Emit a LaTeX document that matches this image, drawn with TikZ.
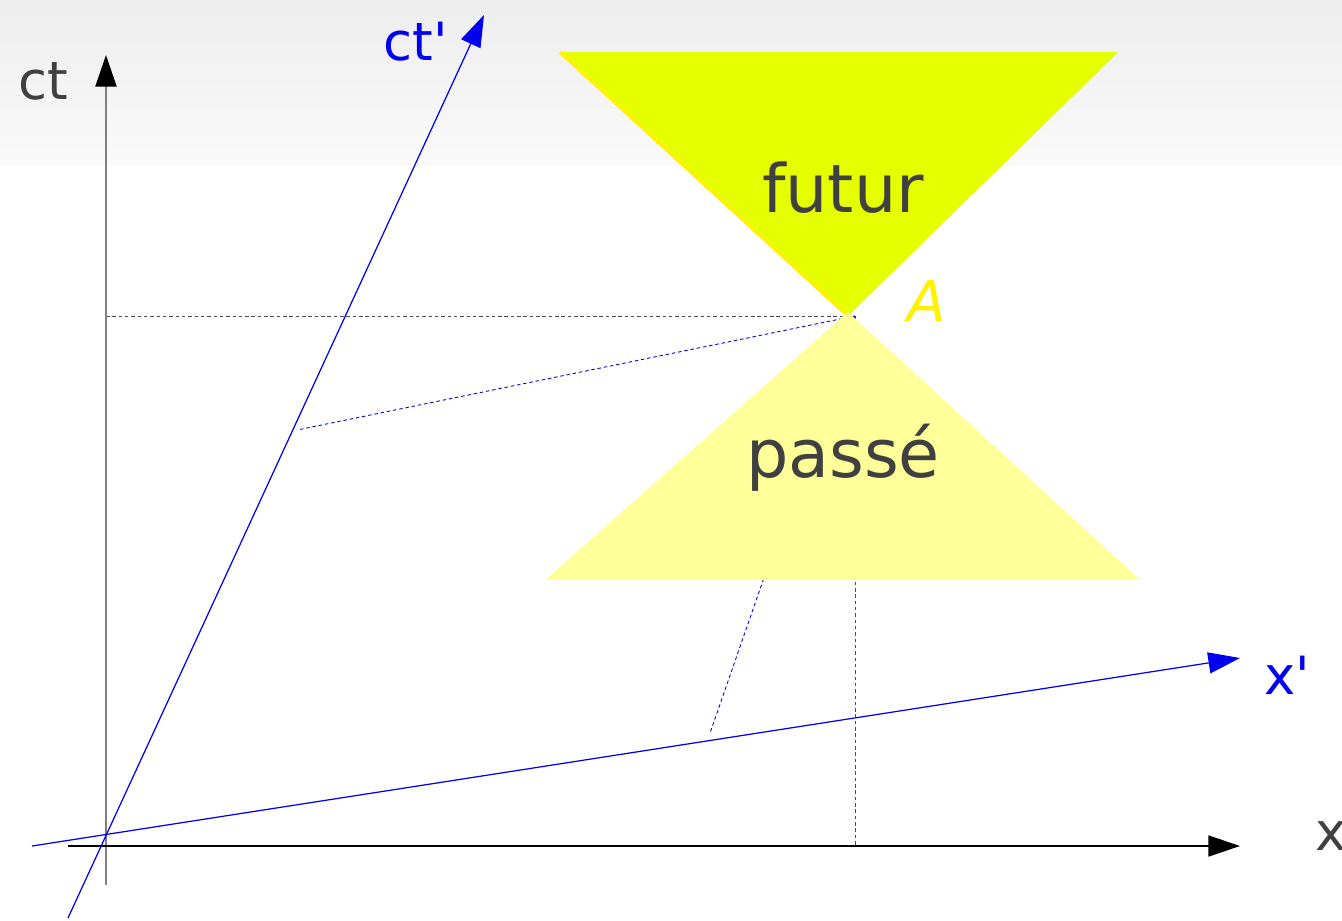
\documentclass[tikz,border=0pt]{standalone}
\usepackage{fontspec}
\setmainfont{DejaVu Sans}[Ligatures=TeXOff]
\usetikzlibrary{arrows.meta}

\definecolor{labelgray}{RGB}{64,64,64}
\definecolor{axisgray}{RGB}{128,128,128}
\definecolor{futurcol}{RGB}{230,255,0}
\definecolor{passecol}{RGB}{255,255,153}
\definecolor{primecol}{RGB}{0,0,240}

\tikzset{
  axis/.style={line width=0.8pt,-{Triangle[length=18pt,width=12pt]}},
  proj/.style={line width=0.5pt,dash pattern=on 2pt off 1.6pt},
  conelabel/.style={inner sep=0pt,text=labelgray,font=\fontsize{38}{44}\selectfont},
  axlabel/.style={inner sep=0pt,font=\fontsize{30}{36}\selectfont},
}

\begin{document}
\begin{tikzpicture}[x=0.02cm,y=-0.02cm]
% background
\useasboundingbox (0,0) rectangle (1342,920);
\fill[white] (0,0) rectangle (1342,920);
\shade[top color=black!7,bottom color=black!2] (0,0) rectangle (1342,165);

% points
\coordinate (ctlow) at (106,885);
\coordinate (cttip) at (106,55);
\coordinate (xlow) at (68,846);
\coordinate (xtip) at (1240,846);
\coordinate (ctplow) at (68,918);
\coordinate (ctptip) at (484,15);
\coordinate (xplow) at (32,846);
\coordinate (xptip) at (1240,658);
\coordinate (A) at (855,316);
\coordinate (Act) at (106,316);
\coordinate (Ax) at (855,846);
\coordinate (Actp) at (297,430);
\coordinate (Axp) at (710,733);

% projections
\draw[proj,black!70] (Act) -- (A);
\draw[proj,black!70] (A) -- (Ax);
\draw[proj,primecol] (A) -- (Actp);
\draw[proj,primecol] (A) -- (Axp);

% frame R
\draw[axisgray,line width=1.1pt,-{Triangle[length=18pt,width=12pt,color=black]}] (ctlow) -- (cttip);
\draw[axis,black] (xlow) -- (xtip);
\node[axlabel,text=labelgray] (ctlabel) at (43,81) {ct};
\node[axlabel,text=labelgray] (xlabel) at (1331,836) {x};

% frame R'
\draw[axis,primecol,line width=0.7pt] (ctplow) -- (ctptip);
\draw[axis,primecol,line width=0.7pt] (xplow) -- (xptip);
\node[axlabel,text=primecol] (ctplabel) at (416,42) {ct'};
\node[axlabel,text=primecol] (xplabel) at (1287,675) {x'};

% light cone
\fill[futurcol] (560,52) -- (1118,52) -- (848,316) -- cycle;
\draw[yellow,line width=2pt] (560,52) -- (848,316);
\fill[passecol] (848,312) -- (1140,580) -- (545,580) -- cycle;
\node[conelabel] (futur) at (843,188) {futur};
\node[conelabel] (passe) at (843,458) {passé};
\node[axlabel,text=yellow,font=\fontsize{32}{38}\selectfont\itshape] (Alabel) at (927,301) {A};
\end{tikzpicture}
\end{document}
